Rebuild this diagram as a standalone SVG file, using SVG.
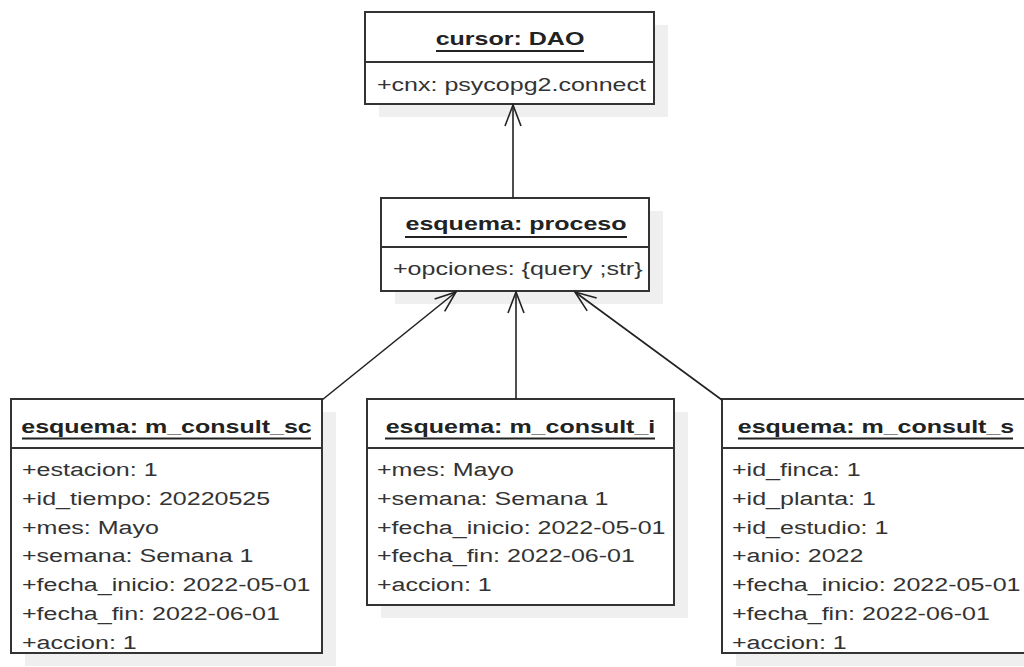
<svg xmlns="http://www.w3.org/2000/svg" width="1024" height="667" viewBox="0 0 1024 667">
  <style>
    .shadow { fill: #efefef; stroke: none; }
    .box { fill: #ffffff; stroke: #333333; stroke-width: 2; }
    .div { stroke: #333333; stroke-width: 2; }
    .ul { stroke: #222222; stroke-width: 1.8; }
    .title { font-family: "Liberation Sans", Arial, sans-serif; font-size: 18px; font-weight: bold; fill: #222222; text-anchor: middle; }
    .attr { font-family: "Liberation Sans", Arial, sans-serif; font-size: 18px; fill: #333333; }
    .conn { stroke: #222222; stroke-width: 1.6; fill: none; }
  </style>
  <defs>
    <marker id="open" markerUnits="userSpaceOnUse" viewBox="-25 -15 30 30" refX="0" refY="0" markerWidth="30" markerHeight="30" orient="auto" overflow="visible">
      <path d="M-21,-8 L0,0 L-21,8" fill="none" stroke="#222222" stroke-width="1.6"/>
    </marker>
  </defs>
  <rect width="1024" height="667" fill="#ffffff"/>

  <g id="cursor-dao">
    <rect class="shadow" x="379" y="25" width="289" height="92"/>
    <rect class="box" x="365" y="12" width="289" height="92"/>
    <line class="div" x1="365" y1="62" x2="654" y2="62"/>
    <text class="title" transform="translate(510,45) scale(1.39,1)">cursor: DAO</text>
    <line class="ul" x1="436" y1="51" x2="584" y2="51"/>
    <text class="attr" transform="translate(377,91) scale(1.39,1)">+cnx: psycopg2.connect</text>
  </g>

  <g id="esquema-proceso">
    <rect class="shadow" x="395" y="211" width="268" height="93"/>
    <rect class="box" x="381" y="198" width="268" height="93"/>
    <line class="div" x1="381" y1="247" x2="649" y2="247"/>
    <text class="title" transform="translate(516,230) scale(1.39,1)">esquema: proceso</text>
    <line class="ul" x1="405" y1="237" x2="627" y2="237"/>
    <text class="attr" transform="translate(393,275) scale(1.39,1)">+opciones: {query ;str}</text>
  </g>

  <g id="m-consult-sc">
    <rect class="shadow" x="25" y="412" width="311" height="254"/>
    <rect class="box" x="11" y="399" width="311" height="254"/>
    <line class="div" x1="11" y1="448" x2="322" y2="448"/>
    <text class="title" transform="translate(166.5,433) scale(1.39,1)">esquema: m_consult_sc</text>
    <line class="ul" x1="22" y1="438.5" x2="311" y2="438.5"/>
    <text class="attr" transform="translate(22,476) scale(1.39,1)">+estacion: 1</text>
    <text class="attr" transform="translate(22,504.8) scale(1.39,1)">+id_tiempo: 20220525</text>
    <text class="attr" transform="translate(22,533.6) scale(1.39,1)">+mes: Mayo</text>
    <text class="attr" transform="translate(22,562.4) scale(1.39,1)">+semana: Semana 1</text>
    <text class="attr" transform="translate(22,591.2) scale(1.39,1)">+fecha_inicio: 2022-05-01</text>
    <text class="attr" transform="translate(22,620) scale(1.39,1)">+fecha_fin: 2022-06-01</text>
    <text class="attr" transform="translate(22,648.8) scale(1.39,1)">+accion: 1</text>
  </g>

  <g id="m-consult-i">
    <rect class="shadow" x="381" y="412" width="307" height="206"/>
    <rect class="box" x="367" y="399" width="307" height="206"/>
    <line class="div" x1="367" y1="448" x2="674" y2="448"/>
    <text class="title" transform="translate(520.5,433) scale(1.39,1)">esquema: m_consult_i</text>
    <line class="ul" x1="385" y1="438.5" x2="655" y2="438.5"/>
    <text class="attr" transform="translate(377,476) scale(1.39,1)">+mes: Mayo</text>
    <text class="attr" transform="translate(377,504.8) scale(1.39,1)">+semana: Semana 1</text>
    <text class="attr" transform="translate(377,533.6) scale(1.39,1)">+fecha_inicio: 2022-05-01</text>
    <text class="attr" transform="translate(377,562.4) scale(1.39,1)">+fecha_fin: 2022-06-01</text>
    <text class="attr" transform="translate(377,591.2) scale(1.39,1)">+accion: 1</text>
  </g>

  <g id="m-consult-s">
    <rect class="shadow" x="736" y="412" width="308" height="254"/>
    <rect class="box" x="722" y="399" width="308" height="254"/>
    <line class="div" x1="722" y1="448" x2="1030" y2="448"/>
    <text class="title" transform="translate(876,433) scale(1.39,1)">esquema: m_consult_s</text>
    <line class="ul" x1="738" y1="438.5" x2="1013" y2="438.5"/>
    <text class="attr" transform="translate(732,476) scale(1.39,1)">+id_finca: 1</text>
    <text class="attr" transform="translate(732,504.8) scale(1.39,1)">+id_planta: 1</text>
    <text class="attr" transform="translate(732,533.6) scale(1.39,1)">+id_estudio: 1</text>
    <text class="attr" transform="translate(732,562.4) scale(1.39,1)">+anio: 2022</text>
    <text class="attr" transform="translate(732,591.2) scale(1.39,1)">+fecha_inicio: 2022-05-01</text>
    <text class="attr" transform="translate(732,620) scale(1.39,1)">+fecha_fin: 2022-06-01</text>
    <text class="attr" transform="translate(732,648.8) scale(1.39,1)">+accion: 1</text>
  </g>

  <g id="connectors">
    <line class="conn" x1="513" y1="198" x2="513" y2="105" marker-end="url(#open)"/>
    <line class="conn" x1="322" y1="400" x2="456" y2="292" marker-end="url(#open)"/>
    <line class="conn" x1="516" y1="399" x2="516" y2="292" marker-end="url(#open)"/>
    <line class="conn" x1="722" y1="400" x2="575" y2="292" marker-end="url(#open)"/>
  </g>
</svg>
